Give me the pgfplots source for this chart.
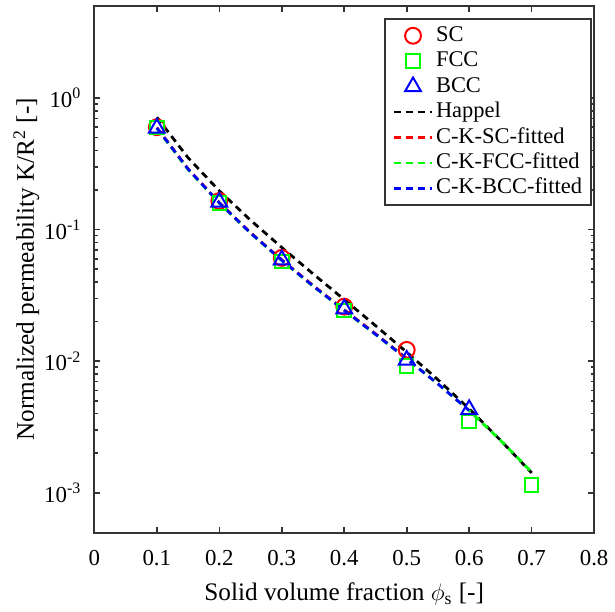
\documentclass[border=0pt]{standalone}
\usepackage{fontspec}
\setmainfont{Liberation Serif}
\usepackage{pgfplots}
\pgfplotsset{compat=1.18}
\usepackage{pgfplotstable}
\definecolor{axgray}{gray}{0.2}
\newcommand{\tl}{\fontsize{11.5}{13}\selectfont}
\newcommand{\lb}{\fontsize{12.7}{14}\selectfont}

\pgfplotstableread{
x y
0.1 0.60
0.2 0.165
0.3 0.061
0.4 0.026
0.5 0.0122
}\sc
\pgfplotstableread{
x y
0.1 0.595
0.2 0.160
0.3 0.0575
0.4 0.0243
0.5 0.0092
0.6 0.0035
0.7 0.00115
}\fcc
\pgfplotstableread{
x y
0.1 0.59
0.2 0.162
0.3 0.059
0.4 0.025
0.5 0.0102
0.6 0.0043
}\bcc
\pgfplotstableread{
x y
0.10 0.714
0.15 0.3516
0.20 0.1971
0.25 0.1179
0.30 0.0732
0.35 0.04617
0.40 0.02941
0.45 0.01866
0.50 0.01172
0.55 0.007237
0.60 0.004354
0.65 0.002515
0.70 0.00142
}\happel
\pgfplotstableread{
x y
0.10 0.596
0.15 0.2900
0.20 0.1605
0.25 0.0950
0.30 0.0590
0.35 0.0377
0.40 0.0246
0.45 0.0162
0.50 0.0105
}\cksc
\pgfplotstableread{
x y
0.10 0.588
0.15 0.2860
0.20 0.1590
0.25 0.0940
0.30 0.0583
0.35 0.0372
0.40 0.0243
0.45 0.0160
0.50 0.01043
0.55 0.00673
0.60 0.004223
0.65 0.002515
0.70 0.00144
}\ckfcc
\pgfplotstableread{
x y
0.10 0.593
0.15 0.2883
0.20 0.1597
0.25 0.0943
0.30 0.0586
0.35 0.0374
0.40 0.02441
0.45 0.01605
0.50 0.01043
0.55 0.00673
0.60 0.004223
}\ckbcc

\begin{document}
\begin{tikzpicture}
\begin{axis}[
  scale only axis, width=251.5pt, height=265pt,
  xmin=0, xmax=0.8, ymode=log, ymin=5e-4, ymax=5,
  xtick={0,0.1,0.2,0.3,0.4,0.5,0.6,0.7,0.8},
  xticklabels={\tl 0,\tl 0.1,\tl 0.2,\tl 0.3,\tl 0.4,\tl 0.5,\tl 0.6,\tl 0.7,\tl 0.8},
  ytick={1e-3,1e-2,1e-1,1},
  yticklabels={\tl 10\textsuperscript{-3},\tl 10\textsuperscript{-2},\tl 10\textsuperscript{-1},\tl 10\textsuperscript{0}},
  tick align=inside, tick pos=both,
  major tick length=3pt, minor tick length=1.8pt,
  axis line style={axgray, line width=1pt},
  every tick/.style={axgray, line width=0.8pt},
  xticklabel style={yshift=-5.5pt},
  yticklabel style={xshift=-3pt},
  xlabel={\lb Solid volume fraction $\phi_{\mathrm{s}}$ [-]},
  ylabel={\lb Normalized permeability K/R\textsuperscript{2} [-]},
  every axis y label/.style={at={(axis description cs:-0.136,0.5)}, rotate=90, anchor=center},
  every axis x label/.style={at={(axis description cs:0.5,-0.117)}, anchor=center},
  legend cell align=left,
  legend style={at={(rel axis cs:0.5805,0.977)}, anchor=north west,
    draw=axgray, line width=1pt, font=\fontsize{11.3}{13}\selectfont,
    nodes={inner sep=1.2pt, text height=8pt, text depth=2.4pt},
    inner xsep=3.5pt, inner ysep=2pt},
  legend image code/.code={\draw[mark repeat=2,mark phase=2,#1] plot coordinates {(0cm,0cm) (0.34cm,0cm) (0.68cm,0cm)};},
]
\addplot[only marks, mark=o, red, mark size=4pt, line width=1pt] table {\sc};
\addlegendentry{SC}
\addplot[only marks, mark=square, green, mark size=3.4pt, line width=1pt] table {\fcc};
\addlegendentry{FCC}
\addplot[only marks, mark=triangle, blue, mark size=4.6pt, line width=1pt] table {\bcc};
\addlegendentry{BCC}
\addplot[black, dash pattern=on 3.5pt off 2.5pt, line width=1.4pt] table {\happel};
\addlegendentry{Happel}
\addplot[red, dash pattern=on 3.5pt off 2.5pt, line width=1.4pt] table {\cksc};
\addlegendentry{C-K-SC-fitted}
\addplot[green, dash pattern=on 3.5pt off 2.5pt, line width=1.4pt] table {\ckfcc};
\addlegendentry{C-K-FCC-fitted}
\addplot[blue, dash pattern=on 3.5pt off 2.5pt, line width=1.4pt] table {\ckbcc};
\addlegendentry{C-K-BCC-fitted}
\end{axis}
\path[use as bounding box] (-47.5pt,-35.5pt) rectangle (260pt,268pt);
\end{tikzpicture}
\end{document}
